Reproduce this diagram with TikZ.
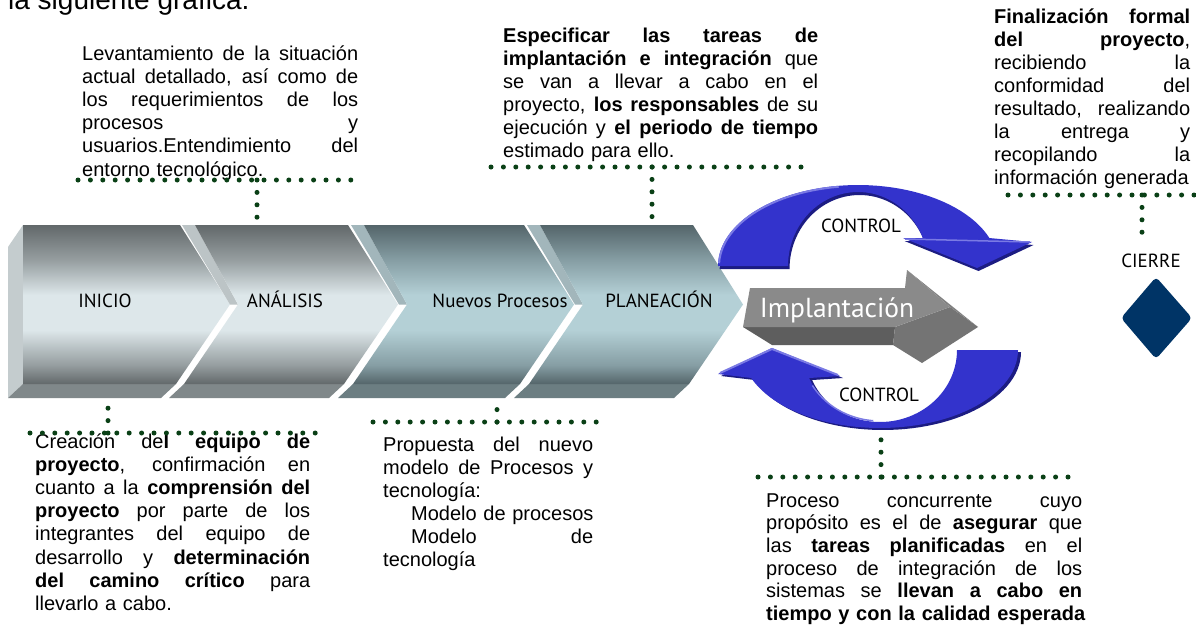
\documentclass[tikz,border=0pt]{standalone}
\usepackage{fontspec}
\setmainfont{Liberation Sans}
\newfontfamily\lblfont{PT Sans}
\definecolor{dotgreen}{RGB}{10,64,22}
\definecolor{gA}{RGB}{98,104,106}
\definecolor{gB}{RGB}{150,158,160}
\definecolor{gC}{RGB}{221,231,234}
\definecolor{bA}{RGB}{84,101,106}
\definecolor{bB}{RGB}{134,158,164}
\definecolor{bC}{RGB}{180,208,214}
\definecolor{stripg}{RGB}{188,196,198}
\definecolor{stripb}{RGB}{162,182,187}
\definecolor{bfg}{RGB}{128,136,138}
\definecolor{bfb}{RGB}{108,126,130}
\definecolor{leftface}{RGB}{196,204,206}
\definecolor{ctlblue}{RGB}{51,51,204}
\definecolor{ctldark}{RGB}{28,28,130}
\definecolor{ctllight}{RGB}{122,122,228}
\definecolor{navy}{RGB}{0,52,102}
\definecolor{arrFront}{RGB}{138,138,138}
\definecolor{arrBottom}{RGB}{94,94,94}
\definecolor{arrSide}{RGB}{116,116,116}
\definecolor{arrTop}{RGB}{128,128,128}
\pgfdeclareverticalshading{shgray}{100bp}{color(0bp)=(gA); color(25bp)=(gA); color(31bp)=(gB); color(42bp)=(gC); color(53bp)=(gC); color(64bp)=(gB); color(75bp)=(gA); color(100bp)=(gA)}
\pgfdeclareverticalshading{shblue}{100bp}{color(0bp)=(bA); color(25bp)=(bA); color(31bp)=(bB); color(42bp)=(bC); color(53bp)=(bC); color(64bp)=(bB); color(75bp)=(bA); color(100bp)=(bA)}
\newcommand\justl[1]{\hbox to\linewidth{\spaceskip=0.278em plus 1fil\relax #1}}
\newcommand\natl[1]{\hbox{#1}}
% xL, xR, shading, strip colour, bottom face colour
\newcommand\chevshape[5]{%
  \fill[#5] ({#1+2},384) -- ({#2-4},384) -- ({#2-19},398) -- ({#1-13},398) -- cycle;
  \fill[#4] (#1,225) -- ({#1+13},225) -- ({#1+56},304.5) -- ({#1+48},304.5) -- cycle;
  \path[shading=#3] ({#1+13},225) -- (#2,225) -- ({#2+50},304.5) -- ({#2-4},384) -- ({#1+2},384) -- ({#1+56},304.5) -- cycle;
}
\tikzset{
  dots/.style={draw=dotgreen, line width=5pt, line cap=round, dash pattern=on 0pt off 12.4pt},
  txt/.style={anchor=base west, inner sep=0pt, font=\fontsize{20}{23.1}\selectfont},
  lbl/.style={anchor=base, inner sep=0pt, font=\lblfont\fontsize{19}{21}\selectfont},
}
\begin{document}
\begin{tikzpicture}[x=1pt,y=-1pt]
\useasboundingbox[fill=white] (0,0) rectangle (1196,624);

% partially visible heading
\node[anchor=base west, inner sep=0pt, font=\fontsize{28}{30}\selectfont] (head) at (8,9) {la siguiente gráfica.};

% text blocks
\node[txt, text width=276pt] (lev) at (82,60.5) {%
\justl{Levantamiento de la situación}
\justl{actual detallado, así como de}
\justl{los requerimientos de los}
\justl{procesos y}
\justl{usuarios.Entendimiento del}
\natl{entorno tecnológico.}};

\node[txt, text width=315pt] (esp) at (503,42) {%
\justl{\textbf{Especificar las tareas de}}
\justl{\textbf{implantación e integración} que}
\justl{se van a llevar a cabo en el}
\justl{proyecto, \textbf{los responsables} de su}
\justl{ejecución y \textbf{el periodo de tiempo}}
\natl{estimado para ello.}};

\node[txt, text width=196pt] (fin) at (994,23) {%
\justl{\textbf{Finalización formal}}
\justl{\textbf{del proyecto},}
\justl{recibiendo la}
\justl{conformidad del}
\justl{resultado, realizando}
\justl{la entrega y}
\justl{recopilando la}
\natl{información generada}};

\node[txt, text width=275pt] (cre) at (35,448.5) {%
\justl{Creación de\textbf{l equipo de}}
\justl{\textbf{proyecto}, confirmación en}
\justl{cuanto a la \textbf{comprensión del}}
\justl{\textbf{proyecto} por parte de los}
\justl{integrantes del equipo de}
\justl{desarrollo y \textbf{determinación}}
\justl{\textbf{del camino crítico} para}
\natl{llevarlo a cabo.}};

\node[txt, text width=210pt] (pro) at (383,451) {%
\justl{Propuesta del nuevo}
\justl{modelo de Procesos y}
\natl{tecnología:}
\natl{\hskip28pt Modelo de procesos}
\justl{\hskip28pt Modelo de}
\natl{tecnología}};

\node[txt, text width=316pt, font=\fontsize{20}{22.7}\selectfont] (con) at (766,507) {%
\justl{Proceso concurrente cuyo}
\justl{propósito es el de \textbf{asegurar} que}
\justl{las \textbf{tareas planificadas} en el}
\justl{proceso de integración de los}
\justl{sistemas se \textbf{llevan a cabo en}}
\natl{\textbf{tiempo y con la calidad esperada}}};

% connector coordinates
\coordinate (levL) at (78,180);  \coordinate (levR) at (362,180);  \coordinate (levJ) at (257,180);
\coordinate (anaT) at (257,225);
\coordinate (espL) at (491,167); \coordinate (espR) at (813,167);  \coordinate (espJ) at (652,167);
\coordinate (plaT) at (652,225);
\coordinate (finL) at (1008,195);\coordinate (finR) at (1194,195); \coordinate (finJ) at (1142,195);
\coordinate (creL) at (30,433);  \coordinate (creR) at (316,433);  \coordinate (creJ) at (108,433);
\coordinate (iniB) at (108,398);
\coordinate (proL) at (373,422); \coordinate (proR) at (597,422);  \coordinate (proJ) at (497,422);
\coordinate (nueB) at (497,398);
\coordinate (conL) at (758,477); \coordinate (conR) at (1078,477); \coordinate (conJ) at (881,477);
\coordinate (ctlB) at (881,432);

\draw[dots] (levL) -- (levR);
\draw[dots] (levJ) -- (anaT);
\draw[dots] (espL) -- (espR);
\draw[dots] (espJ) -- (plaT);
\draw[dots] (finL) -- (finR);
\draw[dots] (creL) -- (creR);
\draw[dots] (creJ) -- (iniB);
\draw[dots] (proL) -- (proR);
\draw[dots] (proJ) -- (nueB);
\draw[dots] (conL) -- (conR);
\draw[dots] (conJ) -- (ctlB);

% chevron band
\fill[leftface] (8,247) -- (23,225) -- (23,384) -- (8,398) -- cycle;
\fill[bfg] (23,384) -- (176,384) -- (161,398) -- (8,398) -- cycle;
\path[shading=shgray] (23,225) -- (180,225) -- (230,304.5) -- (176,384) -- (23,384) -- cycle;
\chevshape{182}{348}{shgray}{stripg}{bfg}
\chevshape{351}{524}{shblue}{stripb}{bfb}
\chevshape{527}{693}{shblue}{stripb}{bfb}

\node[lbl] (ini) at (105,307) {INICIO};
\node[lbl] (ana) at (285,307) {ANÁLISIS};
\node[lbl] (nue) at (500,307) {Nuevos Procesos};
\node[lbl] (pla) at (659,307) {PLANEACIÓN};

% Implantacion arrow
\fill[arrBottom] (743,327) -- (895,327) -- (893,345) -- (772,345) -- cycle;
\fill[arrSide] (895,327) -- (950,307) -- (978,327) -- (922,363) -- (893,345) -- cycle;
\fill[arrTop] (907,270) -- (978,327) -- (950,307) -- cycle;
\fill[arrFront] (750,288) -- (905,288) -- (907,270) -- (950,307) -- (895,327) -- (743,327) -- cycle;
\node[anchor=base, inner sep=0pt, text=white, font=\lblfont\fontsize{27.5}{30}\selectfont] (imp) at (837,317) {Implantación};

% control arrows
\def\upperctl{(718,266) -- plot[domain=180:339.8, samples=50, variable=\t] ({858+140*cos(\t)},{266+81*sin(\t)}) -- (1032,242) -- (977,268) -- (903,238) -- plot[domain=337.8:180, samples=50, variable=\t] ({858+70*cos(\t)},{266+74*sin(\t)}) -- cycle}
\def\lowerctl{(957,350) -- plot[domain=0:159, samples=50, variable=\t] ({880+138*cos(\t)},{350+78*sin(\t)}) -- (718,374) -- (772,348) -- (840,376) -- plot[domain=157.1:0, samples=50, variable=\t] ({880+77*cos(\t)},{350+72*sin(\t)}) -- cycle}
\fill[ctldark, shift={(1.5,3)}] \upperctl;
\fill[ctlblue] \upperctl;
\draw[ctllight, line width=2pt] plot[domain=182:262, samples=30, variable=\t] ({858+139*cos(\t)},{266+80*sin(\t)});
\draw[ctllight, line width=1.5pt] (905,239) -- (1030,242);
\fill[ctldark, shift={(3,2)}] \lowerctl;
\fill[ctlblue] \lowerctl;
\draw[ctllight, line width=2pt] (720,373) -- (772,349) -- (838,375);
\draw[ctllight, line width=1.5pt] plot[domain=150:95, samples=30, variable=\t] ({880+78*cos(\t)},{350+71*sin(\t)});

\node[lbl] (ctlU) at (861,232) {CONTROL};
\node[lbl] (ctlD) at (879,401) {CONTROL};

% cierre
\node[lbl] (cie) at (1151,267) {CIERRE};
\fill[navy, rounded corners=4pt] (1156,277) -- (1192,318) -- (1156,359) -- (1121,318) -- cycle;
\draw[dots] (finJ) -- (1142,243);
\end{tikzpicture}
\end{document}
